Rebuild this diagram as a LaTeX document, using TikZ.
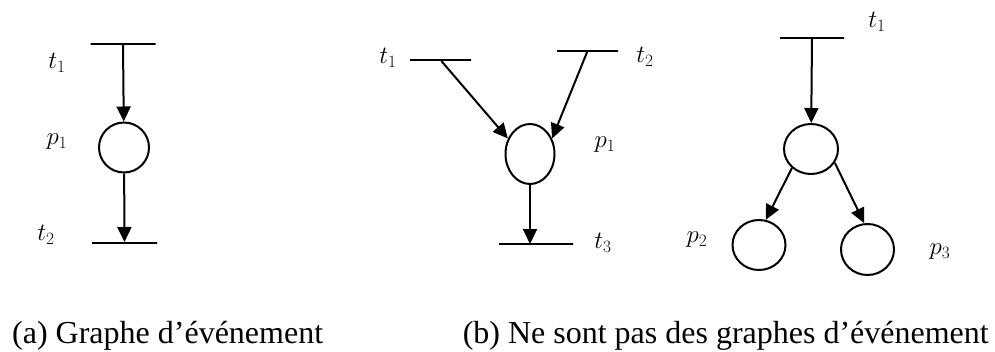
\documentclass[tikz,border=0pt]{standalone}
\usepackage{fontspec}
\setmainfont{Liberation Serif}
\usetikzlibrary{arrows.meta,shapes.geometric}
\begin{document}
\begin{tikzpicture}[x=1pt,y=-1pt,
  bar/.style={draw,line width=2pt,rectangle,inner sep=0pt,minimum height=0pt,minimum width=#1},
  place/.style={draw,line width=2pt,ellipse,inner sep=0pt},
  arc/.style={line width=2pt,-{Triangle[length=15pt,width=14pt]}},
  lab/.style={font=\fontsize{27}{32}\selectfont},
  captext/.style={font=\fontsize{32}{38}\selectfont,inner sep=0pt}]
\useasboundingbox (0,0) rectangle (995,351);
% (a)
\node[bar=65pt] (at1) at (123,44) {};
\node[place,minimum width=50pt,minimum height=50pt] (ap1) at (124,147.5) {};
\node[bar=65pt] (at2) at (124.5,243) {};
\draw[arc] (at1) -- (ap1);
\draw[arc] (ap1) -- (at2);
\node[lab] (lat1) at (57,63) {$t_1$};
\node[lab] (lap1) at (57,142) {$p_1$};
\node[lab] (lat2) at (46,235) {$t_2$};
% (b) left
\node[bar=61pt] (bt1) at (440.5,60) {};
\node[bar=61pt] (bt2) at (587.5,51) {};
\node[place,minimum width=49pt,minimum height=60pt] (bp1) at (530,154) {};
\node[bar=74pt] (bt3) at (536,244) {};
\draw[arc] (bt1) -- (bp1.145);
\draw[arc] (bt2) -- (bp1.35);
\draw[arc] (bp1.south) -- (bp1.south |- bt3.center);
\node[lab] (lbt1) at (388,58) {$t_1$};
\node[lab] (lbt2) at (645,57) {$t_2$};
\node[lab] (lbp1) at (605,145) {$p_1$};
\node[lab] (lbt3) at (603,243) {$t_3$};
% (b) right
\node[bar=64pt] (ct1) at (812,38) {};
\node[place,minimum width=54pt,minimum height=50pt] (cp) at (811,149) {};
\node[place,minimum width=53pt,minimum height=50pt] (cp2) at (759,245) {};
\node[place,minimum width=53pt,minimum height=51pt] (cp3) at (867.5,249.5) {};
\draw[arc] (ct1) -- (cp);
\draw[arc] (cp.225) -- (cp2.75);
\draw[arc] (cp.330) -- (cp3.97);
\node[lab] (lct1) at (877,22) {$t_1$};
\node[lab] (lcp2) at (697,240) {$p_2$};
\node[lab] (lcp3) at (940,252) {$p_3$};
% captions
\node[captext,anchor=base west] (capa) at (12,343) {(a) Graphe d’événement};
\node[captext,anchor=base east] (capb) at (989,343) {(b) Ne sont pas des graphes d’événement};
\end{tikzpicture}
\end{document}
